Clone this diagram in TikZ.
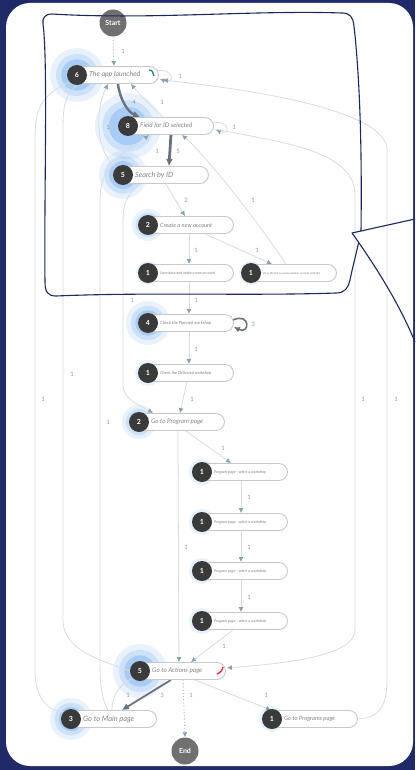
\documentclass[tikz,border=0pt]{standalone}
\usepackage{fontspec}
\setmainfont{Lato}
\usepackage{graphicx}
\usetikzlibrary{shapes.misc,arrows.meta,calc}
\definecolor{navy}{RGB}{32,42,104}
\definecolor{bub}{RGB}{28,40,90}
\definecolor{edgec}{RGB}{214,220,226}
\definecolor{tipc}{RGB}{140,158,178}
\definecolor{heavyc}{RGB}{105,115,128}
\definecolor{numc}{RGB}{58,58,58}
\definecolor{pillc}{RGB}{200,200,200}
\definecolor{txtc}{RGB}{130,130,130}
\definecolor{lblc}{RGB}{150,150,150}
\definecolor{glowc}{RGB}{40,130,235}
\definecolor{termc}{RGB}{112,112,112}
\definecolor{arcg}{RGB}{30,140,120}
\definecolor{arcr}{RGB}{210,40,50}
\pgfdeclarelayer{backl}
\pgfdeclarelayer{glowl}
\pgfdeclarelayer{edgel}
\pgfsetlayers{backl,glowl,edgel,main}
\tikzset{
 pill/.style={rounded rectangle, draw=pillc, line width=0.9pt, fill=white, minimum height=17pt, anchor=west, inner sep=0pt},
 numcirc/.style={circle, fill=numc, minimum size=20pt, inner sep=0pt, text=white, font=\fontsize{7}{7}\selectfont\bfseries},
 ptext/.style={anchor=west, inner sep=0pt, text=txtc, font=\itshape},
 term/.style={circle, fill=termc, minimum size=27pt, inner sep=0pt, text=white, font=\fontsize{7}{7}\selectfont\bfseries},
 elab/.style={text=lblc, font=\fontsize{6}{6}\selectfont, inner sep=0pt},
 edge/.style={draw=edgec, line width=0.8pt},
 arr/.style={-{Latex[length=5pt,width=5pt,color=tipc]}},
 heavy/.style={draw=heavyc, line width=2.4pt, -{Latex[length=7pt,width=7pt,color=heavyc]}},
 dotedge/.style={draw=tipc!70, line width=0.9pt, dash pattern=on 1.2pt off 2pt, -{Latex[length=5pt,width=5pt,color=tipc]}},
}
\newcommand\myglow[3]{%
 \fill[glowc,opacity=0.10] (#1,#2) circle ({#3*1pt});
 \fill[glowc,opacity=0.14] (#1,#2) circle ({0.78*#3*1pt});
 \fill[glowc,opacity=0.22] (#1,#2) circle ({0.58*#3*1pt});
}
\newcommand\mnode[7]{%
 \node[pill, minimum width=#7pt] (#1) at (#2-4,#3) {};
 \node[numcirc] (#1-n) at (#2,#3) {#4};
 \node[ptext] (#1-t) at (#2+12,#3) {\resizebox{#6pt}{!}{#5}};
}
\begin{document}
\begin{tikzpicture}[x=1pt,y=-1pt]
\useasboundingbox (0,0) rectangle (415,770);
\begin{pgfonlayer}{backl}
\fill[navy] (0,0) rectangle (415,770);
\fill[white, rounded corners=24pt] (6,3) rectangle (413,766);
\end{pgfonlayer}
\begin{pgfonlayer}{glowl}
\myglow{77}{75}{27}
\myglow{128}{126}{33}
\myglow{123}{175}{24}
\myglow{148}{225}{16}
\myglow{148}{273}{12}
\myglow{251}{273}{12}
\myglow{148}{323}{22}
\myglow{148}{373}{13}
\myglow{139}{422}{17}
\myglow{202}{472}{13}
\myglow{202}{522}{13}
\myglow{202}{571}{13}
\myglow{202}{621}{13}
\myglow{140}{671}{27}
\myglow{71}{719}{21}
\myglow{272}{719}{13}
\end{pgfonlayer}
% nodes
\node[term] (start) at (113,23) {Start};
\node[term] (en) at (185,751) {End};
\mnode{la}{77}{75}{6}{The app launched}{51}{85}
\mnode{fi}{128}{126}{8}{Field for ID selected}{52}{89}
\mnode{se}{123}{175}{5}{Search by ID}{38}{89}
\mnode{cr}{148}{225}{2}{Create a new account}{52}{89}
\mnode{sv}{148}{273}{1}{Save data and make a new account}{55}{89}
\mnode{pr}{251}{273}{1}{Press the link to create another account with this}{57}{89}
\mnode{cp}{148}{323}{4}{Check the Planned workshop}{51}{89}
\mnode{cd}{148}{373}{1}{Check the Delivered workshop}{51}{89}
\mnode{gp}{139}{422}{2}{Go to Program page}{52}{89}
\mnode{wa}{202}{472}{1}{Program page - select a workshop}{52}{89}
\mnode{wb}{202}{522}{1}{Program page - select a workshop}{52}{89}
\mnode{wc}{202}{571}{1}{Program page - select a workshop}{52}{89}
\mnode{wd}{202}{621}{1}{Program page - select a workshop}{52}{89}
\mnode{ga}{140}{671}{5}{Go to Actions page}{50}{89}
\mnode{gm}{71}{719}{3}{Go to Main page}{51}{89}
\mnode{gs}{272}{719}{1}{Go to Programs page}{51}{89}
% status arcs
\draw[arcg, line width=1.3pt] ($(la.east)+(-10,-5)$) .. controls +(4,0) and +(-1,-3) .. ($(la.east)+(-5,1)$);
\draw[arcr, line width=1.3pt] ($(ga.east)+(-3,-4)$) .. controls +(0,3) and +(3,-1) .. ($(ga.east)+(-9,3)$);
% edges
\begin{pgfonlayer}{edgel}
\draw[dotedge] (start.south) -- ($(la.north)+(-2,0)$);
\draw[edge,arr] ($(la.east)+(-2,-4)$) .. controls +(16,-4) and +(16,6) .. ($(la.east)+(1,4)$);
\draw[heavy] ($(la.south)+(2,0)$) .. controls (120,100) and (128,112) .. ($(fi.north)+(-29,0)$);
\draw[edge,arr] ($(fi.north)+(-6,0)$) .. controls (150,105) and (140,95) .. ($(la.south)+(15,0)$);
\draw[edge,arr] (se-n.north west) .. controls (95,150) and (95,110) .. ($(la.south)+(-8,0)$);
\draw[edge,arr] ($(gm.north)+(-4,0)$) .. controls (100,695) and (100,680) .. (100,650) -- (100,200) .. controls (100,160) and (130,150) .. ($(fi.south)+(-20,0)$);
\draw[heavy, line width=2.8pt] ($(fi.south)+(2,0)$) -- ($(se.north)+(5,0)$);
\draw[edge,arr] ($(fi.east)+(-1,-3)$) .. controls +(16,-4) and +(16,6) .. ($(fi.east)+(2,4)$);
\draw[edge,arr] ($(pr.north)+(-6,0)$) .. controls (250,210) and (200,150) .. ($(fi.south)+(13,0)$);
\draw[edge,arr] ($(fi.east)+(0,3)$) .. controls (280,142) and (355,150) .. (355,195) -- (355,630) .. controls (355,660) and (260,665) .. ($(ga.east)+(1,-3)$);
\draw[edge,arr] (gs.east) .. controls (380,718) and (387,705) .. (387,680) -- (387,150) .. controls (387,118) and (300,95) .. ($(la.east)+(4,5)$);
\draw[edge] (la-n.south west) .. controls (40,95) and (35,110) .. (35,140) -- (35,670) .. controls (35,700) and (50,712) .. (gm-n.north west);
\draw[edge] (la-n.south) .. controls (65,95) and (63,105) .. (63,130) -- (63,620) .. controls (63,650) and (100,660) .. (ga-n.west);
\draw[edge,arr] ($(se.south)+(-23,0)$) .. controls (125,195) and (123,205) .. (123,225) -- (123,385) .. controls (123,400) and (140,405) .. ($(gp.north)+(-27,0)$);
\draw[edge,arr] ($(se.south)+(2,0)$) -- ($(cr.north)+(-4,0)$);
\draw[edge,arr] (cr.south) -- (sv.north);
\draw[edge,arr] ($(cr.south)+(16,0)$) -- ($(pr.north)+(-20,0)$);
\draw[edge,arr] (sv.south) -- (cp.north);
\draw[draw=heavyc, line width=1.6pt, -{Latex[length=6pt,width=6pt,color=heavyc]}] ($(cp.east)+(-1,-3)$) .. controls +(18,-8) and +(16,8) .. ($(cp.east)+(0,4)$);
\draw[edge,arr] (cp.south) -- (cd.north);
\draw[edge,arr] ($(cd.south)+(-2,0)$) -- (gp.north);
\draw[edge,arr] ($(gp.south)+(6,0)$) -- ($(wa.north)+(-12,0)$);
\draw[edge,arr] ($(wa.south)+(-2,0)$) -- ($(wb.north)+(-2,0)$);
\draw[edge,arr] ($(wb.south)+(-2,0)$) -- ($(wc.north)+(-2,0)$);
\draw[edge,arr] ($(wc.south)+(-2,0)$) -- ($(wd.north)+(-2,0)$);
\draw[edge,arr] ($(wd.south)+(-10,0)$) -- ($(ga.north)+(10,0)$);
\draw[edge,arr] ($(gp.south)+(-2,0)$) -- ($(ga.north)+(-2,0)$);
\draw[heavy, line width=1.8pt] ($(ga.south)+(-10,0)$) -- ($(gm.north)+(10,0)$);
\draw[edge] (gm.north) .. controls (112,690) and (125,682) .. (ga-n.south west);
\draw[dotedge] ($(ga.south)+(2,0)$) -- (en.north);
\draw[edge,arr] ($(ga.south)+(14,0)$) -- ($(gs.north)+(-42,0)$);
\end{pgfonlayer}
% edge labels
\node[elab] (l1) at (123,51) {1};
\node[elab] (l2) at (180,76) {1};
\node[elab] (l3) at (134,102) {4};
\node[elab] (l4) at (162,102) {1};
\node[elab] (l5) at (108,127) {1};
\node[elab] (l6) at (234,127) {1};
\node[elab] (l7) at (157,151) {1};
\node[elab] (l8) at (178,151) {5};
\node[elab] (l9) at (186,200) {2};
\node[elab] (l10) at (253,200) {1};
\node[elab] (l11) at (196,250) {1};
\node[elab] (l12) at (257,250) {1};
\node[elab] (l13) at (132,300) {1};
\node[elab] (l14) at (196,300) {1};
\node[elab] (l15) at (253,324) {3};
\node[elab] (l16) at (196,349) {1};
\node[elab] (l17) at (72,374) {1};
\node[elab] (l18) at (192,399) {1};
\node[elab] (l19) at (43,399) {1};
\node[elab] (l20) at (363,399) {1};
\node[elab] (l21) at (396,399) {1};
\node[elab] (l22) at (108,422) {1};
\node[elab] (l23) at (223,448) {1};
\node[elab] (l24) at (249,497) {1};
\node[elab] (l25) at (186,547) {1};
\node[elab] (l26) at (249,547) {1};
\node[elab] (l27) at (249,597) {1};
\node[elab] (l28) at (224,646) {1};
\node[elab] (l29) at (128,695) {1};
\node[elab] (l30) at (162,695) {3};
\node[elab] (l31) at (191,695) {1};
\node[elab] (l32) at (266,695) {1};
% callout bubble
\draw[bub, line width=1.1pt, line join=round] (415,219) -- (352,233) .. controls (375,265) and (400,305) .. (415,342);
\draw[bub, line width=1.1pt, line join=round] (361,231.3) .. controls (362,150) and (360,80) .. (354,26) .. controls (353,17) and (350,13) .. (342,13) .. controls (250,10) and (150,20) .. (52,14) .. controls (45,14) and (42,18) .. (43,24) .. controls (48,60) and (44,200) .. (45,282) .. controls (45,292) and (48,296) .. (56,296) .. controls (150,292) and (250,296) .. (336,293) .. controls (345,293) and (348,288) .. (350,280) .. controls (353,265) and (356,255) .. (358.5,243);
\end{tikzpicture}
\end{document}
